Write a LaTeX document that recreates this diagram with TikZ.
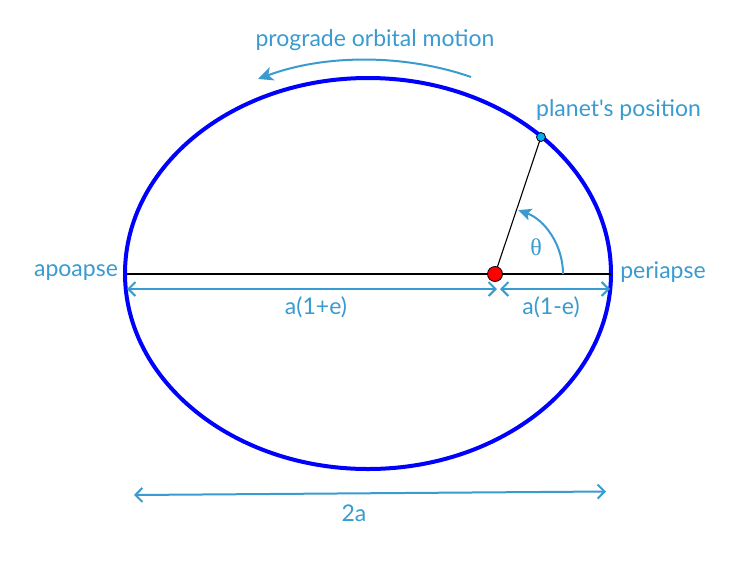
\documentclass[tikz,border=0pt]{standalone}
\usepackage{fontspec}
\newfontfamily\labfont{Lato}
\newfontfamily\thetafont{Liberation Serif}
\usetikzlibrary{arrows.meta}
\definecolor{lbl}{HTML}{3A9BD0}
\definecolor{orb}{HTML}{0000FF}
\begin{document}
\begin{tikzpicture}[x=1pt,y=-1pt,
  txt/.style={text=lbl,font=\labfont\fontsize{23pt}{26pt}\selectfont,inner sep=0pt},
  dim/.style={draw=lbl,line width=2pt,{Straight Barb[length=7pt,width=14pt,line width=2pt]}-{Straight Barb[length=7pt,width=14pt,line width=2pt]}},
  motion/.style={draw=lbl,line width=2pt,-{Stealth[length=15pt,width=14pt,inset=4pt]}}]
\useasboundingbox (0,0) rectangle (750,563);
\fill[white] (0,0) rectangle (750,563);
% ellipse
\draw[orb,line width=4pt] (368,273.5) ellipse [x radius=243, y radius=195.5];
% points
\coordinate (apo) at (127,274);
\coordinate (peri) at (611,274);
\coordinate (focus) at (495,274);
\draw[black,line width=1.8pt] (apo) -- (peri);
\coordinate (planetpos) at (541,137);
\draw[black,line width=1.1pt] (focus) -- (planetpos);
\node[circle,draw=black,fill=red,minimum size=15pt,inner sep=0pt,line width=0.8pt] (sun) at (focus) {};
\node[circle,draw=black,fill=cyan,minimum size=9pt,inner sep=0pt,line width=0.8pt] (planet) at (planetpos) {};
% theta arc
\draw[motion,-{Stealth[length=13pt,width=12pt,inset=3pt]}] (563,274) arc[start angle=0,end angle=-70,radius=68];
\node[txt,font=\thetafont\fontsize{24pt}{26pt}\selectfont] (theta) at (536,247) {θ};
% dimension lines
\coordinate (d1a) at (127,289);
\coordinate (d1b) at (497,289);
\coordinate (d2a) at (500,289);
\coordinate (d2b) at (610,289);
\draw[dim] (d1a) -- (d1b);
\draw[dim] (d2a) -- (d2b);
\node[txt] (l1) at (316,307) {a(1+e)};
\node[txt] (l2) at (551,307) {a(1-e)};
\coordinate (w1) at (134,495);
\coordinate (w2) at (606,491.5);
\draw[dim] (w1) -- (w2);
\node[txt] (l3) at (354,513) {2a};
% labels
\node[txt] (apol) at (76,273) {apoapse};
\node[txt] (peril) at (663,272) {periapse};
\node[txt] (pl) at (618.5,110) {planet's position};
\node[txt] (pro) at (375,40) {prograde orbital motion};
% motion arrow
\coordinate (m1) at (471,77);
\coordinate (m2) at (258,79);
\draw[motion] (m1) .. controls (405,54) and (325,54) .. (m2);
\end{tikzpicture}
\end{document}
